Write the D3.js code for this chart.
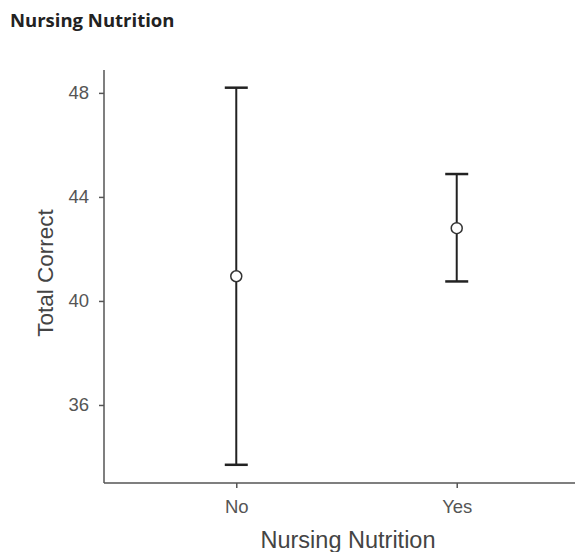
<!DOCTYPE html>
<html>
<head>
<meta charset="utf-8">
<script src="https://cdn.jsdelivr.net/npm/d3@7"></script>
<style>
  body { margin: 0; background: #fff; }
  text { font-family: "Liberation Sans", Arial, sans-serif; }
</style>
</head>
<body>
<svg id="chart" width="575" height="552"></svg>
<script>
// groupes et valeurs
const groups = ["No", "Yes"];
const means = [40.95, 42.8];
const lower = [33.7, 40.75];
const upper = [48.2, 44.88];
const yTicks = [36, 40, 44, 48];

const svg = d3.select("#chart");
const mLeft = 104, mBottom = 483, mTop = 70;

const x = d3.scalePoint().domain(groups).range([mLeft, 589]).padding(0.6);
const y = d3.scaleLinear().domain([33, 48.88]).range([mBottom, mTop]);

// titre
svg.append("text").attr("x", 10).attr("y", 27)
  .style("font-family", "'Open Sans', 'DejaVu Sans', sans-serif")
  .style("font-weight", "bold").style("font-size", "18.5px").attr("fill", "#222")
  .text("Nursing Nutrition");

// axe y
const gy = svg.append("g").attr("transform", `translate(${mLeft},0)`)
  .call(d3.axisLeft(y).tickValues(yTicks).tickSize(5).tickPadding(10));
gy.select(".domain").attr("d", `M0,${mTop}V${mBottom}`);
// axe x
const gx = svg.append("g").attr("transform", `translate(0,${mBottom})`)
  .call(d3.axisBottom(x).tickSize(5).tickPadding(12));
gx.select(".domain").attr("d", `M${mLeft},0H575`);

[gx, gy].forEach(g => {
  g.attr("font-size", 18.5).attr("font-family", "'Liberation Sans', Arial, sans-serif");
  g.select(".domain").attr("stroke", "#555").attr("stroke-width", 1.5);
  g.selectAll(".tick line").attr("stroke", "#555").attr("stroke-width", 1.5);
  g.selectAll(".tick text").attr("fill", "#555").style("font-size", "18.5px");
});

// titres des axes
svg.append("text").attr("transform", `translate(53,273) rotate(-90)`)
  .attr("text-anchor", "middle").attr("fill", "#444").style("font-size", "22.5px")
  .text("Total Correct");
svg.append("text").attr("x", 348).attr("y", 548)
  .attr("text-anchor", "middle").attr("fill", "#444").style("font-size", "23.5px")
  .text("Nursing Nutrition");

// barres d'erreur
const cap = 11.5;
const bars = svg.append("g").attr("stroke", "#222").attr("stroke-width", 2);
groups.forEach((gname, i) => {
  const cx = x(gname);
  bars.append("line").attr("x1", cx).attr("x2", cx).attr("y1", y(lower[i])).attr("y2", y(upper[i]));
  bars.append("line").attr("x1", cx - cap).attr("x2", cx + cap).attr("y1", y(upper[i])).attr("y2", y(upper[i])).attr("stroke-width", 2.5);
  bars.append("line").attr("x1", cx - cap).attr("x2", cx + cap).attr("y1", y(lower[i])).attr("y2", y(lower[i])).attr("stroke-width", 2.5);
});
svg.append("g").selectAll("circle").data(groups).enter().append("circle")
  .attr("cx", d => x(d)).attr("cy", (d, i) => y(means[i])).attr("r", 5.5)
  .attr("fill", "#fff").attr("stroke", "#333").attr("stroke-width", 1.5);
</script>
</body>
</html>
